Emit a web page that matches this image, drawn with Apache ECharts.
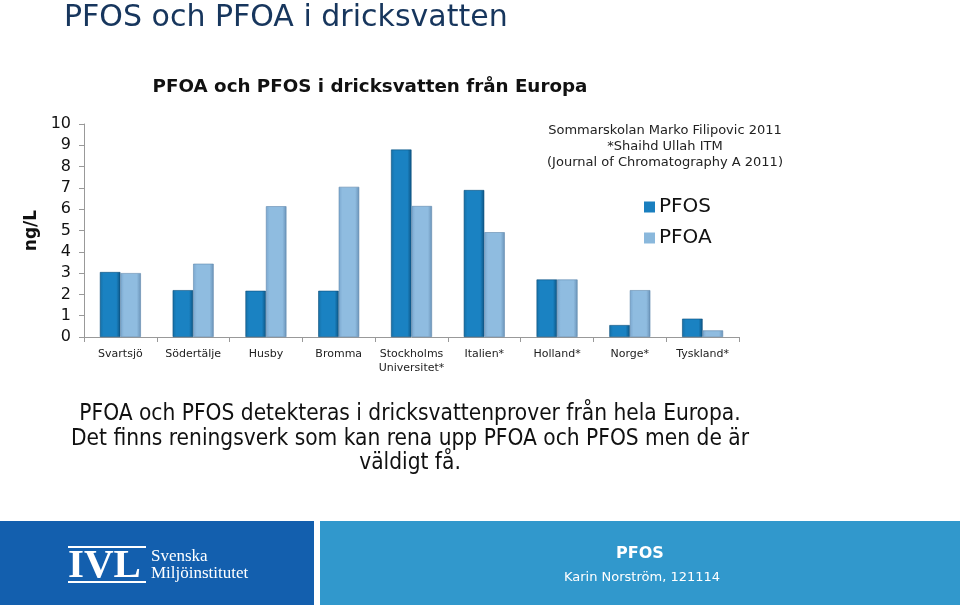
<!DOCTYPE html>
<html>
<head>
<meta charset="utf-8">
<script src="https://cdn.jsdelivr.net/npm/echarts@6/dist/echarts.min.js"></script>
<style>
html,body{margin:0;padding:0;background:#fff;}
#c{width:960px;height:605px;}
</style>
</head>
<body>
<div id="c"></div>
<script>
const categories = ['Svartsjö','Södertälje','Husby','Bromma','Stockholms\nUniversitet*','Italien*','Holland*','Norge*','Tyskland*'];
const seriesNames = ['PFOS','PFOA'];
const pfos = [3.05, 2.2, 2.17, 2.17, 8.8, 6.9, 2.7, 0.56, 0.86];
const pfoa = [3.0, 3.44, 6.14, 7.05, 6.15, 4.92, 2.7, 2.2, 0.31];
const yTicks = [0,1,2,3,4,5,6,7,8,9,10];

const chart = echarts.init(document.getElementById('c'), null, {renderer:'canvas'});
const F = 'Verdana, "DejaVu Sans", sans-serif';
function grad(c0,c1,c2){
  return new echarts.graphic.LinearGradient(0,0,1,0,[
    {offset:0,color:c0},{offset:0.18,color:c1},{offset:0.8,color:c1},{offset:1,color:c2}]);
}
const pfosColor = grad('#1670a6','#1a82c2','#0c5483');
const pfoaColor = grad('#7aa7cf','#8fbce0','#6a93b8');

chart.setOption({
  animation:false,
  grid:{left:84, right:221, top:124, bottom:268},
  legend:{
    orient:'vertical', left:639, top:192, itemWidth:11, itemHeight:11, itemGap:11,
    icon:'rect',
    textStyle:{fontFamily:F, fontSize:20, color:'#111', padding:[0,0,0,-1]},
    data:[{name:'PFOS', itemStyle:{color:'#1a7fbf', borderWidth:0}},{name:'PFOA', itemStyle:{color:'#8ab8dc', borderWidth:0}}]
  },
  xAxis:{
    type:'category', data:categories,
    axisLine:{lineStyle:{color:'#999'}},
    axisTick:{show:true, alignWithLabel:false, length:5, lineStyle:{color:'#999'}},
    axisLabel:{fontFamily:F, fontSize:11, color:'#222', margin:10, lineHeight:14, interval:0}
  },
  yAxis:{
    type:'value', min:yTicks[0], max:yTicks[yTicks.length-1], interval:1,
    name:'ng/L', nameLocation:'middle', nameGap:35, nameRotate:90,
    nameTextStyle:{fontFamily:F, fontSize:17, fontWeight:'bold', color:'#111'},
    axisLine:{show:true, lineStyle:{color:'#999'}},
    axisTick:{show:true, length:5, lineStyle:{color:'#999'}},
    splitLine:{show:false},
    axisLabel:{fontFamily:F, fontSize:16, color:'#111', margin:13}
  },
  series:[
    {name:seriesNames[0], type:'bar', data:pfos, barWidth:20.5, barGap:'0%',
     itemStyle:{color:pfosColor, borderColor:'#0b4f7c', borderWidth:0.6}},
    {name:seriesNames[1], type:'bar', data:pfoa, barWidth:20.5,
     itemStyle:{color:pfoaColor, borderColor:'#5f88ad', borderWidth:0.6}}
  ],
  graphic:[
    {type:'text', x:64, y:3, style:{text:'PFOS och PFOA i dricksvatten', font:'30px '+F, fill:'#17365d'}},
    {type:'text', x:370, y:78, style:{text:'PFOA och PFOS i dricksvatten från Europa', font:'bold 18.3px '+F, fill:'#111', align:'center'}},
    {type:'text', x:665, y:123, style:{text:'Sommarskolan Marko Filipovic 2011\n*Shaihd Ullah ITM\n(Journal of Chromatography A 2011)', font:'13px '+F, fill:'#222', align:'center', lineHeight:16}},
    {type:'text', x:410, y:402, style:{text:'PFOA och PFOS detekteras i dricksvattenprover från hela Europa.\nDet finns reningsverk som kan rena upp PFOA och PFOS men de är\nväldigt få.', font:'22.5px "DejaVu Sans Condensed", "Liberation Sans Narrow", sans-serif', fill:'#111', align:'center', lineHeight:24.5}},
    {type:'rect', shape:{x:0,y:521,width:314,height:84}, style:{fill:'#135fae'}},
    {type:'rect', shape:{x:320,y:521,width:640,height:84}, style:{fill:'#3198cc'}},
    {type:'rect', shape:{x:68,y:546,width:78,height:2}, style:{fill:'#fff'}},
    {type:'rect', shape:{x:68,y:581,width:78,height:2}, style:{fill:'#fff'}},
    {type:'text', x:68, y:546, style:{text:'IVL', font:'bold 41px "Liberation Serif", "DejaVu Serif", serif', fill:'#fff'}},
    {type:'text', x:151, y:548, style:{text:'Svenska\nMiljöinstitutet', font:'17px "Liberation Serif", "DejaVu Serif", serif', fill:'#fff', lineHeight:17}},
    {type:'text', x:640, y:546, style:{text:'PFOS', font:'bold 16px '+F, fill:'#fff', align:'center'}},
    {type:'text', x:642, y:571, style:{text:'Karin Norström, 121114', font:'13px '+F, fill:'#fff', align:'center'}}
  ]
});
</script>
</body>
</html>
